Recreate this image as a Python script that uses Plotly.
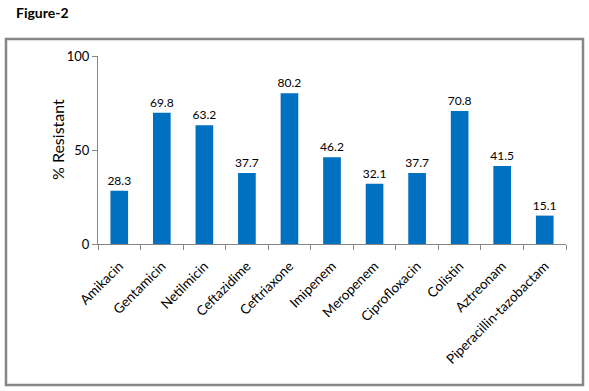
import plotly.graph_objects as go

categories = ["Amikacin", "Gentamicin", "Netilmicin", "Ceftazidime", "Ceftriaxone",
              "Imipenem", "Meropenem", "Ciprofloxacin", "Colistin", "Aztreonam",
              "Piperacillin-tazobactam"]
resistant = [28.3, 69.8, 63.2, 37.7, 80.2, 46.2, 32.1, 37.7, 70.8, 41.5, 15.1]
y_ticks = [0, 50, 100]

W, H = 589, 391
L, R, T, B = 98, 23, 56, 147
pw, ph = W - L - R, H - T - B

fig = go.Figure(go.Bar(
    x=categories, y=resistant,
    marker=dict(color="#0070C0", line=dict(width=0)),
    text=[f"{v:.1f}" for v in resistant],
    textposition="outside", cliponaxis=False, constraintext="none",
    textfont=dict(family="Lato", size=12, color="#000000"),
))

def px_x(p):
    return (p - L) / pw

def px_y(p):
    return 1 - (p - T) / ph

fig.update_layout(
    width=W, height=H,
    margin=dict(l=L, r=R, t=T, b=B, pad=0, autoexpand=False),
    paper_bgcolor="white", plot_bgcolor="white",
    bargap=0.585,
    showlegend=False,
    font=dict(family="Lato", size=12, color="#000000"),
    xaxis=dict(
        showline=True, linecolor="#868686", linewidth=1,
        ticks="outside", tickson="boundaries", ticklen=5, tickcolor="#868686", tickwidth=1,
        tickangle=-45, tickfont=dict(family="Lato", size=13.5, color="#000000"),
        ticklabelstandoff=8,
        showgrid=False, zeroline=False, automargin=False,
    ),
    yaxis=dict(
        range=[0, 100], tickvals=y_ticks,
        showline=True, linecolor="#868686", linewidth=1,
        ticks="outside", ticklen=5, tickcolor="#868686", tickwidth=1,
        tickfont=dict(family="Lato", size=13, color="#000000"),
        showgrid=False, zeroline=False, automargin=False,
    ),
    shapes=[dict(
        type="rect", xref="paper", yref="paper",
        x0=px_x(6), x1=px_x(583), y0=px_y(385), y1=px_y(39),
        line=dict(color="#868686", width=2.5), fillcolor="rgba(0,0,0,0)",
        layer="below",
    )],
    annotations=[
        dict(text="<b>Figure-2</b>", xref="paper", yref="paper",
             x=px_x(14), y=px_y(13), xanchor="left", yanchor="middle",
             showarrow=False, font=dict(family="Lato", size=14, color="#000000")),
        dict(text="% Resistant", xref="paper", yref="paper",
             x=px_x(57), y=px_y(140), xanchor="center", yanchor="middle",
             textangle=-90, showarrow=False,
             font=dict(family="Lato", size=16, color="#000000")),
    ],
)

fig.write_html("out.html",
               config={"displayModeBar": False},
               post_script="document.body.style.margin='0';document.body.style.overflow='hidden';")
